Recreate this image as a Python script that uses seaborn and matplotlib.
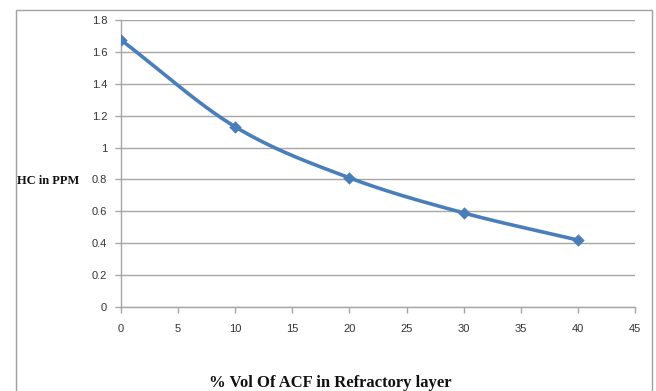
import numpy as np
import pandas as pd
import matplotlib
matplotlib.use("Agg")
import matplotlib.pyplot as plt
from matplotlib.patches import Rectangle
import seaborn as sns

vol_acf = [0, 10, 20, 30, 40]
hc_ppm = [1.675, 1.13, 0.81, 0.59, 0.42]
x_ticks = [0, 5, 10, 15, 20, 25, 30, 35, 40, 45]
y_ticks = [0, 0.2, 0.4, 0.6, 0.8, 1, 1.2, 1.4, 1.6, 1.8]

sns.set_theme(style="white")
plt.rcParams['font.family'] = ['Liberation Sans', 'DejaVu Sans']

def catmull_rom(xs, ys, n=40):
    P = np.column_stack([xs, ys]).astype(float)
    P = np.vstack([2 * P[0] - P[1], P, 2 * P[-1] - P[-2]])
    out = []
    for i in range(1, len(P) - 2):
        p0, p1, p2, p3 = P[i - 1], P[i], P[i + 1], P[i + 2]
        t = np.linspace(0, 1, n)[:, None]
        seg = 0.5 * ((2 * p1) + (-p0 + p2) * t + (2 * p0 - 5 * p1 + 4 * p2 - p3) * t**2
                     + (-p0 + 3 * p1 - 3 * p2 + p3) * t**3)
        out.append(seg if i == len(P) - 3 else seg[:-1])
    return np.vstack(out)

curve = catmull_rom(vol_acf, hc_ppm)
df_curve = pd.DataFrame({"x": curve[:, 0], "y": curve[:, 1]})
df_pts = pd.DataFrame({"x": vol_acf, "y": hc_ppm})

fig = plt.figure(figsize=(6.56, 3.91), dpi=100)
ax = fig.add_axes([121 / 656, 1 - 307 / 391, 514 / 656, 287 / 391])

color = "#4a7ebb"
sns.lineplot(data=df_curve, x="x", y="y", ax=ax, color=color, linewidth=2.6, sort=False)
sns.scatterplot(data=df_pts, x="x", y="y", ax=ax, color=color, marker="D", s=40,
                edgecolor=color, linewidth=0, zorder=5)

ax.set_xlim(0, 45)
ax.set_ylim(0, 1.8)
ax.set_xticks(x_ticks)
ax.set_yticks(y_ticks)
ax.set_xticklabels([str(v) for v in x_ticks])
ax.set_yticklabels([f"{v:g}" for v in y_ticks])
ax.yaxis.grid(True, color="#a6a6a6", linewidth=1.0)
ax.xaxis.grid(False)
ax.set_axisbelow(True)
for s in ["top", "right"]:
    ax.spines[s].set_visible(False)
for s in ["left", "bottom"]:
    ax.spines[s].set_color("#a6a6a6")
    ax.spines[s].set_linewidth(1.0)
ax.tick_params(axis="x", which="both", bottom=True, direction="out", length=4, width=1,
               color="#a6a6a6", labelsize=8, labelcolor="#333333", pad=8)
ax.tick_params(axis="y", which="both", left=True, direction="out", length=4, width=1,
               color="#a6a6a6", labelsize=8, labelcolor="#333333", pad=6)
ax.set_xlabel("")
ax.set_ylabel("")

fig.text(16 / 656 + 0.002, 1 - 181 / 391, "HC in PPM", ha="left", va="center",
         fontsize=9, fontweight="bold", family=["Liberation Serif"], color="#111111")
fig.text(330 / 656, 1 - 383 / 391, "% Vol Of ACF in Refractory layer", ha="center", va="center",
         fontsize=12, fontweight="bold", family=["Liberation Serif"], color="#111111")

fig.add_artist(Rectangle((16 / 656, -0.2), (652 - 16) / 656, 1.2 - 10 / 391,
                         transform=fig.transFigure, fill=False, edgecolor="#a0a0a0",
                         linewidth=1.0, clip_on=False))

fig.savefig("out.png", dpi=100)
